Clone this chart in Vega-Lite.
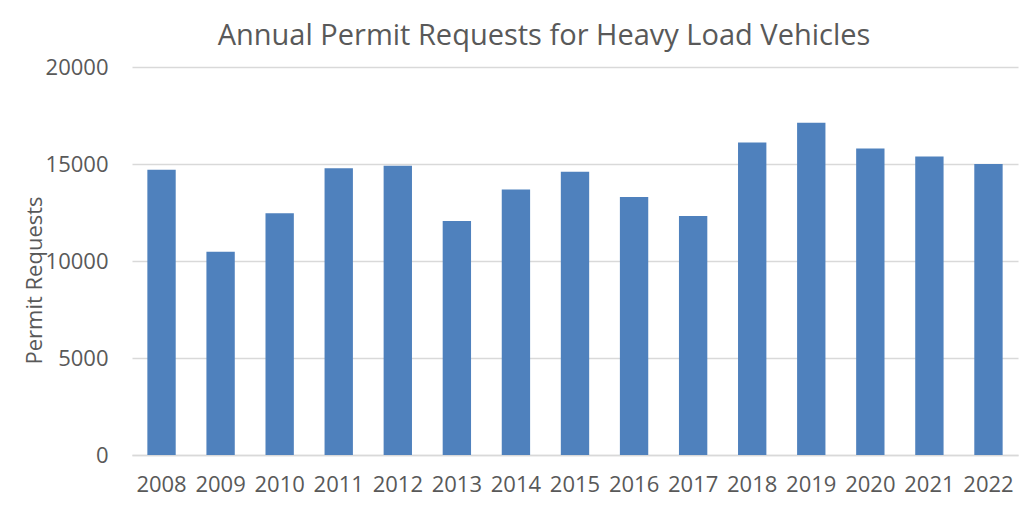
{
  "$schema": "https://vega.github.io/schema/vega-lite/v6.json",
  "autosize": "none",
  "width": 886,
  "height": 388,
  "padding": {"left": 132, "top": 67, "right": 14, "bottom": 57},
  "background": "white",
  "title": {
    "text": "Annual Permit Requests for Heavy Load Vehicles",
    "font": "Open Sans",
    "fontSize": 29,
    "fontWeight": "normal",
    "color": "#595959",
    "anchor": "middle",
    "dx": -31,
    "offset": 5
  },
  "data": {
    "values": [
      {"year": "2008", "requests": 14700},
      {"year": "2009", "requests": 10480},
      {"year": "2010", "requests": 12460},
      {"year": "2011", "requests": 14780},
      {"year": "2012", "requests": 14910},
      {"year": "2013", "requests": 12060},
      {"year": "2014", "requests": 13680},
      {"year": "2015", "requests": 14600},
      {"year": "2016", "requests": 13300},
      {"year": "2017", "requests": 12320},
      {"year": "2018", "requests": 16110},
      {"year": "2019", "requests": 17130},
      {"year": "2020", "requests": 15800},
      {"year": "2021", "requests": 15390},
      {"year": "2022", "requests": 15000}
    ]
  },
  "mark": {"type": "bar", "color": "#4F81BD"},
  "encoding": {
    "x": {
      "field": "year",
      "type": "ordinal",
      "scale": {"paddingInner": 0.52, "paddingOuter": 0.26},
      "axis": {
        "title": null,
        "labelAngle": 0,
        "labelFont": "Open Sans",
        "labelFontSize": 22,
        "labelColor": "#595959",
        "labelPadding": 19,
        "ticks": false,
        "domainColor": "#D9D9D9",
        "domainWidth": 1.5
      }
    },
    "y": {
      "field": "requests",
      "type": "quantitative",
      "scale": {"domain": [0, 20000], "nice": false},
      "axis": {
        "title": "Permit Requests",
        "titleFont": "Open Sans",
        "titleFontSize": 22,
        "titleFontWeight": "normal",
        "titleColor": "#595959",
        "titleX": -98,
        "titleY": 213,
        "titleAlign": "center",
        "titleBaseline": "middle",
        "values": [0, 5000, 10000, 15000, 20000],
        "format": "d",
        "labelFont": "Open Sans",
        "labelFontSize": 22,
        "labelColor": "#595959",
        "labelPadding": 24,
        "ticks": false,
        "domain": false,
        "gridColor": "#D9D9D9",
        "gridWidth": 1.5
      }
    }
  },
  "config": {"view": {"stroke": null}}
}
